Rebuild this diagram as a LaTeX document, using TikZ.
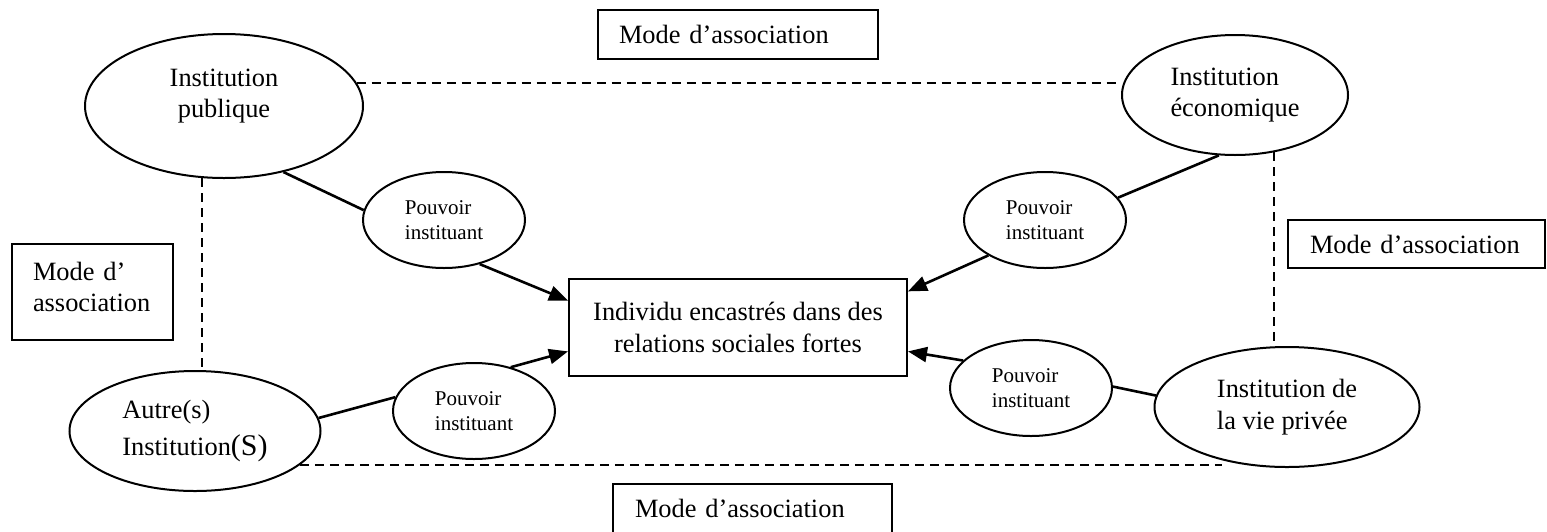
\documentclass[tikz,border=0pt]{standalone}
\usepackage{fontspec}
\setmainfont{Liberation Serif}
\usetikzlibrary{shapes.geometric,arrows.meta,calc}
\begin{document}
\begin{tikzpicture}[x=0.5pt,y=-0.5pt,
  big/.style={font=\fontsize{13.2}{15.8}\selectfont},
  small/.style={font=\fontsize{10.5}{12.5}\selectfont},
  ell/.style={draw, ellipse, line width=1pt, inner sep=0pt, align=left, big},
  pv/.style={draw, ellipse, line width=1pt, inner sep=0pt, minimum width=81pt, minimum height=48pt, align=left, small},
  modebox/.style={draw, rectangle, line width=1pt, inner ysep=0pt, align=left, big},
  conn/.style={line width=1.3pt},
  arr/.style={line width=1.3pt, -{Triangle[length=9.5pt,width=7.5pt]}},
  dsh/.style={line width=0.9pt, dash pattern=on 4.5pt off 3pt}]
\useasboundingbox (0,0) rectangle (1547,531);

% institutions
\node[ell, minimum width=139pt, minimum height=72pt] (pub) at (224,106) {};
\node[big, align=center, inner sep=0pt] (pubt) at (224,96) {Institution\\publique};
\node[ell, minimum width=113pt, minimum height=60pt] (eco) at (1235,95) {Institution\\économique};
\node[ell, minimum width=125.5pt, minimum height=60pt] (aut) at (195,431) {Autre(s)\\[2.5pt]Institution{\fontsize{15}{15}\selectfont(S)}};
\node[ell, minimum width=132.5pt, minimum height=60pt] (vie) at (1287,407) {Institution de\\la vie privée};

% pouvoir instituant
\node[pv] (pv1) at (444,220) {Pouvoir\\instituant};
\node[pv] (pv2) at (1045,220) {Pouvoir\\instituant};
\node[pv] (pv3) at (474,411) {Pouvoir\\instituant};
\node[pv] (pv4) at (1031,388) {Pouvoir\\instituant};

% central box
\node[draw, rectangle, line width=1pt, minimum width=169pt, minimum height=48.5pt, inner sep=0pt, align=center, big] (ind) at (738,327.5) {Individu encastrés dans des\\relations sociales fortes};

% mode d'association boxes
\node[modebox, minimum height=24.5pt, inner xsep=10.5pt, text width=119pt] (mtop) at (738,34.5) {Mode d’association};
\node[modebox, minimum height=48pt, inner xsep=10.5pt, text width=59.5pt] (mleft) at (92.5,292) {Mode d’\\association\\[-10.8pt]\mbox{}};
\node[modebox, minimum height=24pt, inner xsep=11pt, text width=106.5pt] (mright) at (1416.5,244) {Mode d’association};
\node[modebox, minimum height=24.5pt, inner xsep=11pt, text width=117.5pt] (mbot) at (752.5,508.5) {Mode d’association};

% connectors
\draw[conn] (pub.-48) -- (pv1.173);
\draw[arr] (pv1.-51) -- (ind.171.75);
\draw[conn] (eco.-105) -- (pv2.17);
\draw[arr] (pv2.212) -- (ind.12.5);
\draw[conn] (aut.6) -- (pv3.170);
\draw[arr] (pv3.50) -- (ind.188.6);
\draw[conn] (vie.175) -- (pv4.1);
\draw[arr] (pv4.158) -- (ind.-8.2);

% dashed association lines
\coordinate (bend) at (1222,466);
\draw[dsh] (pub.10) -- (pub.10 -| eco.west);
\draw[dsh] (pub.253) -- (pub.253 |- aut.north);
\draw[dsh] (eco.-56) -- ($(eco.-56 |- vie.north)+(0,-4)$);
\draw[dsh] (aut.-18) -- (aut.-18 -| bend);
\end{tikzpicture}
\end{document}
